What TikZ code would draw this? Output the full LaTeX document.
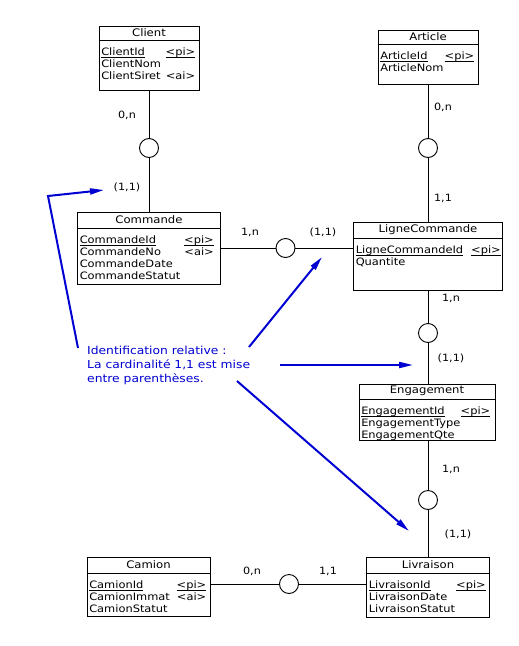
\documentclass[tikz,border=0pt]{standalone}
\usepackage{fontspec}
\setmainfont[FakeStretch=1.12]{DejaVu Sans}
\usetikzlibrary{arrows.meta,positioning}
\definecolor{Note_blue}{RGB}{0, 0, 210}
\tikzset{
    entity/.style={draw, line width=0.9pt, inner sep=0pt},
    etitle/.style={anchor=north, minimum height=14pt, inner sep=0pt, font=\fontsize{10.4}{12}\selectfont},
    attrs/.style={anchor=north west, align=left, inner xsep=2.5pt, inner ysep=8pt, font=\fontsize{10.2}{11.9}\selectfont},
    rel/.style={draw, circle, line width=0.9pt, minimum size=19pt, inner sep=0pt},
    card/.style={font=\fontsize{10}{12}\selectfont},
    link/.style={line width=0.9pt},
    note text/.style={text=Note_blue, align=left, inner sep=0pt, font=\fontsize{11}{14}\selectfont},
    note arrow/.style={Note_blue, line width=2pt, -{Triangle[length=14pt,width=6pt]}}
}

\begin{document}
\begin{tikzpicture}[x=1pt, y=-1pt]
    \useasboundingbox[fill=white] (0,0) rectangle (519,646);

    %% Entities
    % Client
    \node[entity, minimum width=100, minimum height=64] (client) at (149,58) {};
    \node[etitle] (client-title) at (client.north) {Client};
    \draw[link] (client.west |- client-title.south) -- (client.east |- client-title.south);
    \node[attrs, text width=94] (client-attrs) at (client.west |- client-title.south)
    {\underbar{ClientId}\hfill\underbar{<pi>}\\ClientNom\\ClientSiret\hfill<ai>};

    % Article
    \node[entity, minimum width=100, minimum height=54] (article) at (428,57) {};
    \node[etitle] (article-title) at (article.north) {Article};
    \draw[link] (article.west |- article-title.south) -- (article.east |- article-title.south);
    \node[attrs, text width=94] (article-attrs) at (article.west |- article-title.south)
    {\underbar{ArticleId}\hfill\underbar{<pi>}\\ArticleNom};

    % Commande
    \node[entity, minimum width=143, minimum height=72] (commande) at (149,248) {};
    \node[etitle, minimum height=16] (commande-title) at (commande.north) {Commande};
    \draw[link] (commande.west |- commande-title.south) -- (commande.east |- commande-title.south);
    \node[attrs, text width=134] (commande-attrs) at (commande.west |- commande-title.south)
    {\underbar{CommandeId}\hfill\underbar{<pi>}\\CommandeNo\hfill<ai>\\CommandeDate\\CommandeStatut};

    % LigneCommande
    \node[entity, minimum width=149, minimum height=68] (lignecommande) at (428,256) {};
    \node[etitle, minimum height=16] (lignecommande-title) at (lignecommande.north) {LigneCommande};
    \draw[link] (lignecommande.west |- lignecommande-title.south) -- (lignecommande.east |- lignecommande-title.south);
    \node[attrs, text width=145] (lignecommande-attrs) at (lignecommande.west |- lignecommande-title.south)
    {\underbar{LigneCommandeId}\hfill\underbar{<pi>}\\Quantite};

    % Engagement
    \node[entity, minimum width=136, minimum height=56] (engagement) at (427,412) {};
    \node[etitle, minimum height=15] (engagement-title) at (engagement.north) {Engagement};
    \draw[link] (engagement.west |- engagement-title.south) -- (engagement.east |- engagement-title.south);
    \node[attrs, text width=129] (engagement-attrs) at (engagement.west |- engagement-title.south)
    {\underbar{EngagementId}\hfill\underbar{<pi>}\\EngagementType\\EngagementQte};

    % Camion
    \node[entity, minimum width=123, minimum height=59] (camion) at (148.5,586.5) {};
    \node[etitle, minimum height=16] (camion-title) at (camion.north) {Camion};
    \draw[link] (camion.west |- camion-title.south) -- (camion.east |- camion-title.south);
    \node[attrs, text width=117] (camion-attrs) at (camion.west |- camion-title.south)
    {\underbar{CamionId}\hfill\underbar{<pi>}\\CamionImmat\hfill<ai>\\CamionStatut};

    % Livraison
    \node[entity, minimum width=123, minimum height=60] (livraison) at (428,587) {};
    \node[etitle, minimum height=16] (livraison-title) at (livraison.north) {Livraison};
    \draw[link] (livraison.west |- livraison-title.south) -- (livraison.east |- livraison-title.south);
    \node[attrs, text width=117] (livraison-attrs) at (livraison.west |- livraison-title.south)
    {\underbar{LivraisonId}\hfill\underbar{<pi>}\\LivraisonDate\\LivraisonStatut};

    %% Relations
    \node[rel] (passer) at (149,148) {};
    \draw[link] (client) -- (passer) -- (commande);
    \node[card] (passer-client) at (127,115) {0,n};
    \node[card] (passer-commande) at (127,187) {(1,1)};

    \node[rel] (concerner) at (428,148) {};
    \draw[link] (article) -- (concerner) -- (lignecommande);
    \node[card] (concerner-article) at (443,107) {0,n};
    \node[card] (concerner-ligne) at (443,198) {1,1};

    \node[rel] (contenir) at (285.5,248) {};
    \draw[link] (commande) -- (contenir) -- (contenir -| lignecommande.west);
    \node[card] (contenir-commande) at (250,232) {1,n};
    \node[card] (contenir-ligne) at (323,232) {(1,1)};

    \node[rel] (engager) at (428,333) {};
    \draw[link] (lignecommande) -- (engager) -- (engager |- engagement.north);
    \node[card] (engager-ligne) at (451,298) {1,n};
    \node[card] (engager-engagement) at (451,358) {(1,1)};

    \node[rel] (livrer) at (428,500) {};
    \draw[link] (livrer |- engagement.south) -- (livrer) -- (livraison);
    \node[card] (livrer-engagement) at (451,469) {1,n};
    \node[card] (livrer-livraison) at (458,534) {(1,1)};

    \node[rel] (transporter) at (289,584) {};
    \draw[link] (transporter -| camion.east) -- (transporter) -- (transporter -| livraison.west);
    \node[card] (transporter-camion) at (252,571) {0,n};
    \node[card] (transporter-livraison) at (328,571) {1,1};

    %% Note
    \node[note text, anchor=north west] (note) at (87,346)
    {Identification relative :\\La cardinalité 1,1 est mise\\entre parenthèses.};
    \coordinate (note-a) at (78,348);
    \coordinate (note-bend) at (48,196);
    \coordinate (note-a-end) at (104,190);
    \coordinate (note-b) at (249,347);
    \coordinate (note-b-end) at (322,257);
    \coordinate (note-c) at (280,365);
    \coordinate (note-c-end) at (413,365);
    \coordinate (note-d) at (237,381);
    \coordinate (note-d-end) at (409,531);
    \draw[note arrow] (note-a) -- (note-bend) -- (note-a-end);
    \draw[note arrow] (note-b) -- (note-b-end);
    \draw[note arrow] (note-c) -- (note-c-end);
    \draw[note arrow] (note-d) -- (note-d-end);

\end{tikzpicture}
\end{document}
